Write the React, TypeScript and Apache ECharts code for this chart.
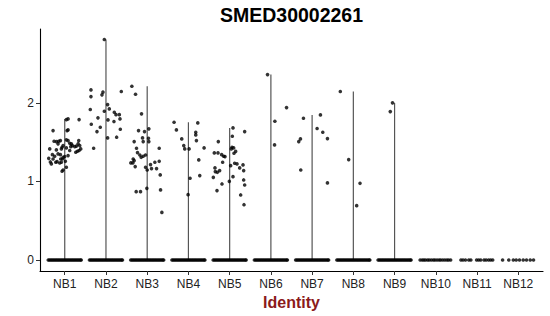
import React, { useEffect, useRef } from "react";
import * as echarts from "echarts";

const categories = ["NB1", "NB2", "NB3", "NB4", "NB5", "NB6", "NB7", "NB8", "NB9", "NB10", "NB11", "NB12"];
const yTicks = [0, 1, 2];

// non-zero expression values per identity: [jitter offset, value]
const nb1 = [
  [-0.283, 1.647], [-0.388, 1.294], [-0.348, 1.248], [-0.324, 1.223], [-0.364, 1.414], [-0.259, 1.511],
  [-0.202, 1.507], [-0.146, 1.511], [-0.105, 1.52], [-0.162, 1.478], [-0.243, 1.32], [-0.081, 1.414],
  [-0.105, 1.341], [-0.065, 1.435], [-0.04, 1.456], [-0.081, 1.244], [-0.121, 1.235], [-0.057, 1.286],
  [-0.04, 1.146], [-0.065, 1.129], [0.04, 1.18], [0.016, 1.256], [0.0, 1.316], [0.04, 1.427],
  [0.081, 1.52], [0.121, 1.486], [0.162, 1.478], [0.186, 1.456], [0.243, 1.443], [0.283, 1.45],
  [0.324, 1.478], [0.364, 1.456], [0.34, 1.52], [0.348, 1.393], [0.307, 1.384], [0.267, 1.371],
  [0.388, 1.414], [0.348, 1.787], [0.04, 1.787], [0.081, 1.796], [0.057, 1.647], [0.081, 1.656],
  [0.04, 1.529], [0.081, 1.329], [0.121, 1.393], [0.146, 1.443], [-0.04, 1.307], [-0.097, 1.286],
  [-0.186, 1.252], [-0.162, 1.35], [-0.202, 1.401], [-0.299, 1.341], [-0.283, 1.286], [-0.218, 1.244],
];
const nb2 = [
  [-0.04, 2.806], [-0.364, 2.165], [-0.364, 2.08], [-0.38, 1.915], [-0.356, 1.728], [-0.299, 1.422],
  [-0.218, 1.634], [-0.194, 1.809], [-0.138, 1.689], [-0.097, 2.102], [-0.073, 2.136], [-0.04, 1.893],
  [0.04, 1.978], [0.081, 1.923], [0.049, 1.783], [0.04, 1.554], [0.202, 1.88], [0.194, 1.762],
  [0.243, 1.85], [0.324, 1.85], [0.34, 1.796], [0.259, 1.563], [0.348, 1.664], [0.372, 2.144],
];
const nb3 = [
  [-0.372, 2.212], [-0.283, 2.11], [-0.138, 1.86], [-0.21, 1.647], [-0.316, 1.507], [-0.396, 1.236],
  [-0.348, 1.236], [-0.316, 1.265], [-0.34, 1.286], [-0.291, 1.189], [-0.259, 1.422], [-0.235, 1.367],
  [-0.178, 1.337], [-0.146, 1.307], [-0.097, 1.32], [-0.04, 1.337], [-0.113, 1.554], [-0.065, 1.634],
  [0.04, 1.669], [0.032, 1.549], [0.04, 1.507], [-0.097, 1.507], [-0.04, 1.18], [0.0, 1.146],
  [0.081, 1.214], [0.105, 1.163], [0.186, 1.244], [0.227, 1.163], [0.291, 1.256], [0.291, 1.422],
  [0.316, 1.083], [0.324, 0.892], [-0.008, 0.912], [-0.267, 0.87], [-0.162, 0.87], [0.356, 0.606],
];
const nb4 = [
  [-0.348, 1.753], [-0.291, 1.656], [-0.162, 1.541], [-0.113, 1.456], [-0.089, 1.414], [0.016, 1.414],
  [-0.008, 0.832], [0.04, 1.04], [0.227, 1.745], [0.178, 1.626], [0.178, 1.592], [0.194, 1.52],
  [0.251, 1.274], [0.275, 1.074], [0.38, 1.427],
];
const nb5 = [
  [-0.372, 1.363], [-0.283, 1.363], [-0.275, 1.507], [-0.194, 1.341], [-0.146, 1.32], [-0.113, 1.316],
  [-0.17, 1.244], [-0.356, 1.172], [-0.348, 1.125], [-0.299, 1.116], [-0.243, 1.138], [-0.396, 1.052],
  [-0.186, 0.968], [-0.307, 0.883], [-0.008, 1.001], [0.024, 1.201], [0.081, 1.061], [0.04, 1.414],
  [0.057, 1.435], [0.097, 1.427], [0.146, 1.383], [0.105, 1.358], [0.121, 1.231], [0.178, 1.223],
  [0.243, 1.172], [0.324, 1.21], [0.34, 1.138], [0.34, 1.019], [0.364, 0.955], [0.267, 0.828],
  [0.348, 0.704], [0.081, 1.681], [0.065, 1.575], [0.364, 1.634],
];
const nb6 = [[-0.081, 2.36], [0.097, 1.766], [0.089, 1.465], [0.38, 1.94]];
const nb7 = [
  [-0.324, 1.507], [-0.283, 1.541], [-0.275, 1.146], [-0.21, 1.804], [0.202, 1.847], [0.121, 1.673],
  [0.259, 1.626], [0.372, 1.545], [0.372, 0.981],
];
const nb8 = [[-0.316, 2.144], [-0.113, 1.278], [0.162, 0.976], [0.081, 0.692]];
const nb9 = [[-0.05, 2.0], [-0.104, 1.889]];
const nb10: number[][] = [];
const nb11: number[][] = [];
const nb12: number[][] = [];
const nonZero = [nb1, nb2, nb3, nb4, nb5, nb6, nb7, nb8, nb9, nb10, nb11, nb12];

// jitter offsets of the cells with zero expression
const denseZero = [
  -0.4, -0.37, -0.34, -0.31, -0.28, -0.25, -0.22, -0.19, -0.16, -0.13, -0.1, -0.07, -0.04, -0.01,
  0.02, 0.05, 0.08, 0.11, 0.14, 0.17, 0.2, 0.23, 0.26, 0.29, 0.32, 0.35, 0.38, 0.4,
];
const zeroNb10 = [-0.38, -0.33, -0.29, -0.25, -0.2, -0.16, -0.11, -0.06, -0.02, 0.03, 0.08, 0.12, 0.17, 0.22, 0.27, 0.31, 0.36];
const zeroNb11 = [-0.39, -0.34, -0.28, -0.2, -0.15, -0.01, 0.04, 0.09, 0.17, 0.22, 0.28, 0.33, 0.38];
const zeroNb12 = [-0.38, -0.23, -0.12, -0.05, 0.03, 0.12, 0.2, 0.29, 0.37];
const zeroJitter = [
  denseZero, denseZero, denseZero, denseZero, denseZero, denseZero, denseZero, denseZero, denseZero,
  zeroNb10, zeroNb11, zeroNb12,
];

const FONT = "'Liberation Sans', Arial, Helvetica, sans-serif";

export default function App() {
  const ref = useRef<HTMLDivElement>(null);
  useEffect(() => {
    if (!ref.current) return;
    const chart = echarts.init(ref.current, undefined, { renderer: "svg" });

    const points: number[][] = [];
    categories.forEach((_, i) => {
      zeroJitter[i].forEach((j) => points.push([i + 1 + j, 0]));
      nonZero[i].forEach(([j, v]) => points.push([i + 1 + j, v]));
    });
    const violinTops = categories.map((_, i) => [
      i + 1,
      nonZero[i].length ? Math.max(...nonZero[i].map((p) => p[1])) : 0,
    ]);

    chart.setOption({
      animation: false,
      grid: { left: 40, top: 29, width: 503, height: 242, containLabel: false },
      graphic: [
        {
          type: "text",
          x: 291.5,
          y: 15,
          style: {
            text: "SMED30002261",
            fontSize: 19.5,
            fontWeight: "bold",
            fontFamily: FONT,
            fill: "#000",
            textAlign: "center",
            textVerticalAlign: "middle",
          },
        },
      ],
      xAxis: {
        type: "value",
        min: 0.4,
        max: 12.6,
        name: "Identity",
        nameLocation: "middle",
        nameGap: 23,
        nameTextStyle: { color: "#8B1A1A", fontSize: 16, fontWeight: "bold", fontFamily: FONT },
        axisLine: { show: true, onZero: false, lineStyle: { color: "#000", width: 1.1 } },
        axisTick: { show: true, length: 4, customValues: categories.map((_, i) => i + 1), lineStyle: { color: "#333" } },
        axisLabel: {
          customValues: categories.map((_, i) => i + 1),
          formatter: (v: number) => categories[Math.round(v) - 1] ?? "",
          color: "#222",
          fontSize: 12,
          fontFamily: FONT,
          margin: 7,
        },
        splitLine: { show: false },
      },
      yAxis: {
        type: "value",
        min: -0.14,
        max: 2.94,
        axisLine: { show: true, onZero: false, lineStyle: { color: "#000", width: 1.1 } },
        axisTick: { show: true, length: 4, customValues: yTicks, lineStyle: { color: "#333" } },
        axisLabel: {
          customValues: yTicks,
          color: "#222",
          fontSize: 12,
          fontFamily: FONT,
          margin: 6,
        },
        splitLine: { show: false },
      },
      series: [
        {
          type: "custom",
          data: violinTops,
          renderItem: (_params: any, api: any) => {
            const x = api.value(0);
            const top = api.coord([x, api.value(1)]);
            const bottom = api.coord([x, 0]);
            return {
              type: "line",
              shape: { x1: top[0], y1: top[1], x2: bottom[0], y2: bottom[1] },
              style: { stroke: "#555", lineWidth: 1.2 },
            };
          },
          z: 1,
        },
        {
          type: "scatter",
          data: points,
          symbol: "circle",
          symbolSize: 3.6,
          itemStyle: { color: "#000" },
          z: 2,
        },
      ],
    });
    return () => chart.dispose();
  }, []);
  return <div ref={ref} style={{ position: "absolute", left: 0, top: 0, width: 550, height: 316 }} />;
}
